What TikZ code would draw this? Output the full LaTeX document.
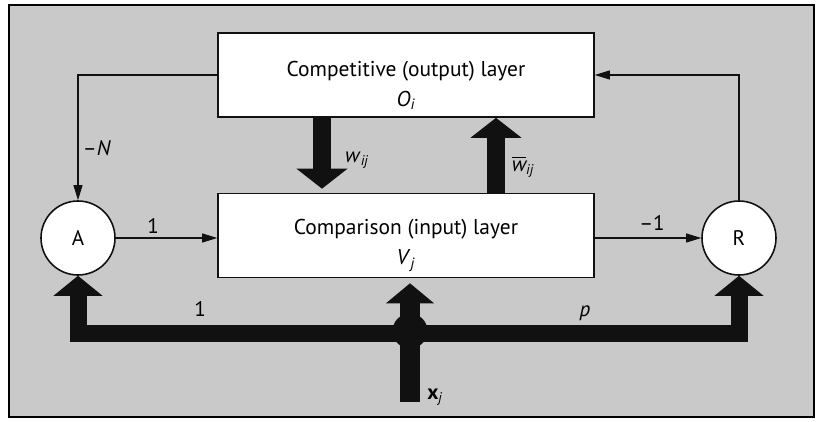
\documentclass[tikz,border=0pt]{standalone}
\usepackage{amsmath}
\usepackage{fontspec}
\setmainfont{PT Sans}
\usetikzlibrary{arrows.meta, positioning, calc}
\definecolor{artbg}{HTML}{C9C9C9}
\definecolor{artink}{HTML}{111111}
\newcommand{\ssub}[2]{\textit{#1}$_{\textit{#2}}$}
\tikzset{
  layerbox/.style={rectangle, draw=artink, line width=0.9pt, fill=white, minimum width=7.52cm,
    minimum height=1.68cm},
  layertxt/.style={font=\fontsize{12.2}{14}\selectfont, align=center, inner sep=0pt},
  unit/.style={circle, draw=artink, line width=0.9pt, fill=white, minimum size=1.48cm,
    font=\fontsize{12}{14}\selectfont},
  junc/.style={circle, fill=artink, minimum size=0.7cm, inner sep=0pt},
  lbl/.style={font=\fontsize{12}{14}\selectfont, inner sep=1pt},
  thinarr/.style={-{Triangle[length=0.3cm, width=0.18cm]}, line width=0.6pt, artink},
  fatarr/.style={-{Triangle[length=0.4cm, width=1cm]}, line width=0.36cm, artink},
  busarr/.style={{Triangle[length=0.4cm, width=0.96cm]}-{Triangle[length=0.4cm, width=0.96cm]},
    line width=0.34cm, artink, line join=miter},
}

\begin{document}
\begin{tikzpicture}
        \useasboundingbox (0,0) rectangle (16.34,-8.44);
        \draw[line width=0.8pt, fill=artbg] (0.18,-0.1) rectangle (16.28,-8.34);
        % layers
        \node[layerbox] (outl) at (8.12,-1.5) {};
        \node[layertxt] (outltxt) at ([yshift=-0.21cm]outl.center) {Competitive (output) layer \\[3pt] \ssub{O}{i}};
        \node[layerbox] (inl) at (8.12,-4.71) {};
        \node[layertxt] (inltxt) at ([yshift=-0.2cm]inl.center) {Comparison (input) layer \\[3pt] \ssub{V}{j}};
        \node[unit] (A) at (1.56,-4.76) {A};
        \node[unit] (R) at (14.78,-4.76) {R};
        % thin connections
        \draw[thinarr] (outl.west) -| (A.north);
        \draw[thinarr] (R.north) |- (outl.east);
        \draw[thinarr] (A.east) -- (A.east -| inl.west);
        \draw[thinarr] (R.west -| inl.east) -- (R.west);
        % weights
        \draw[fatarr, shorten >=0.08cm] ([xshift=-1.68cm]outl.south) -- ([xshift=-1.68cm]inl.north);
        \draw[fatarr] ([xshift=1.8cm]inl.north) -- ([xshift=1.8cm]outl.south);
        % input bus
        \coordinate (bus) at (8.2,-6.68);
        \coordinate (xin) at (8.2,-8.04);
        \draw[busarr] (A.south) -- (A.south |- bus) -- (R.south |- bus) -- (R.south);
        \node[junc] (jn) at (8.2,-6.62) {};
        \draw[fatarr, line width=0.4cm, -{Triangle[length=0.4cm, width=0.94cm]}, shorten >=0.1cm] (xin) -- (xin |- inl.south);
        % labels
        \node[lbl] (lnegn) at (1.94,-2.96) {--\textit{N}};
        \node[lbl] (lone) at (3.06,-4.52) {1};
        \node[lbl] (lmone) at (13.04,-4.46) {--1};
        \node[lbl] (lw) at (7.14,-3.2) {\ssub{w}{ij}};
        \node[lbl] (lwb) at (10.46,-3.34) {$\overline{\textit{w}}_{\textit{ij}}$};
        \node[lbl] (lbone) at (4.0,-6.18) {1};
        \node[lbl] (lp) at (11.7,-6.26) {\textit{p}};
        \node[lbl] (lx) at (8.7,-7.94) {\textbf{x}$_{\textit{j}}$};
      \end{tikzpicture}
\end{document}
